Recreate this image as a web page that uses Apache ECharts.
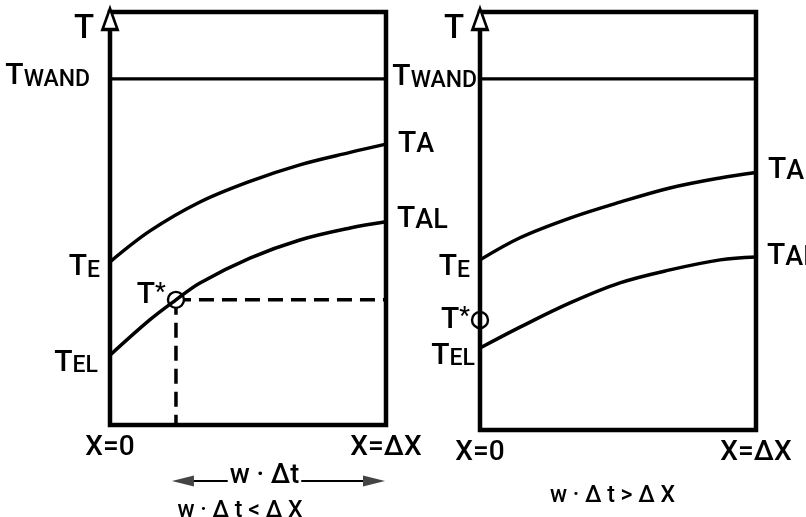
<!DOCTYPE html>
<html><head><meta charset="utf-8">
<script src="https://cdn.jsdelivr.net/npm/echarts@6/dist/echarts.min.js"></script>
<style>html,body{margin:0;padding:0;background:#fff}#c{width:806px;height:517px}</style>
</head><body><div id="c"></div>
<script>
// ---- data ----
const xTickLabels = ['X=0', 'X=\u0394X'];
const xPos = [0, 0.145, 0.326, 0.507, 0.688, 0.870, 1.0];
const leftTA = [39.5, 47.0, 54.0, 59.0, 63.0, 66.0, 68.0];
const leftTALx = [0, 0.145, 0.239, 0.326, 0.507, 0.688, 0.870, 1.0];
const leftTAL = [16.9, 25.5, 30.3, 34.4, 40.4, 44.8, 47.7, 49.2];
const rightTA = [40.7, 46.0, 50.7, 54.5, 57.9, 60.3, 61.6];
const rightTAL = [19.6, 24.6, 30.4, 35.2, 38.3, 40.7, 41.4];
const tWand = [83.8, 84.0];
const tStar = [[0.239, 30.3], [0, 26.3]];
const yTop = 100;
const captions = ['w \u00b7 \u0394 t < \u0394 X', 'w \u00b7 \u0394 t > \u0394 X'];
const arrowLabel = 'w \u00b7 \u0394t';

// ---- styles ----
const F = 'Roboto';
const rich = {
  b: {fontFamily: F, fontSize: 30, fontWeight: 500, color: '#000', verticalAlign: 'bottom'},
  s: {fontFamily: F, fontSize: 23, fontWeight: 500, color: '#000', verticalAlign: 'bottom'},
  a: {fontFamily: F, fontSize: 27, fontWeight: 500, color: '#000', verticalAlign: 'bottom'},
  t: {fontFamily: F, fontSize: 33, fontWeight: 500, color: '#000'},
  sup: {fontFamily: F, fontSize: 24, fontWeight: 500, color: '#000', verticalAlign: 'top'}
};
function lab(text, position, distance, dy) {
  return {show: true, position: position, distance: distance, offset: [0, dy], formatter: text, rich: rich};
}
function curve(xs, ys, firstLab, lastLab, gi) {
  const data = xs.map((x, i) => ({value: [x, ys[i]]}));
  if (firstLab) data[0].label = firstLab;
  if (lastLab) data[data.length - 1].label = lastLab;
  return {
    type: 'line', xAxisIndex: gi, yAxisIndex: gi, smooth: 0.35, data: data,
    showSymbol: true, symbol: 'circle', symbolSize: 0, z: 4,
    lineStyle: {color: '#000', width: 3.5}, itemStyle: {color: '#000'},
    label: {show: false}, emphasis: {disabled: true}, silent: true
  };
}
function straight(pts, gi, dashed, z) {
  return {
    type: 'line', xAxisIndex: gi, yAxisIndex: gi, data: pts.map(p => ({value: p})),
    showSymbol: true, symbol: 'circle', symbolSize: 0, z: z || 3,
    lineStyle: {color: '#000', width: dashed ? 3.5 : 3.2, type: dashed ? [15, 8] : 'solid'},
    itemStyle: {color: '#000'}, label: {show: false}, emphasis: {disabled: true}, silent: true
  };
}
function scatterPt(pt, gi, opts) {
  return Object.assign({
    type: 'scatter', xAxisIndex: gi, yAxisIndex: gi, data: [{value: pt}],
    emphasis: {disabled: true}, silent: true
  }, opts);
}

const series = [];
for (let gi = 0; gi < 2; gi++) {
  const L = gi === 0;
  const tw = straight([[0, tWand[gi]], [1, tWand[gi]]], gi, false);
  tw.data[0].label = lab('{b|T}{s|WAND}', 'left', L ? 20 : 3, L ? -2 : -1);
  series.push(tw);
  series.push(curve(xPos, L ? leftTA : rightTA,
    lab('{b|T}{s|E}', 'left', 10, L ? 6 : 8),
    lab('{b|T}{a|A}', 'right', 12, L ? 0 : -2), gi));
  series.push(curve(L ? leftTALx : xPos, L ? leftTAL : rightTAL,
    lab('{b|T}{s|EL}', 'left', L ? 12 : 5, 8),
    lab('{b|T}{a|AL}', 'right', 11, L ? -2 : 0), gi));
  if (tStar[gi][0] > 0) {
    series.push(straight([tStar[gi], [1, tStar[gi][1]]], gi, true, 2));
    series.push(straight([tStar[gi], [tStar[gi][0], 0]], gi, true, 2));
  }
  series.push(scatterPt(tStar[gi], gi, {
    symbol: 'circle', symbolSize: 16, z: L ? 3 : 5,
    itemStyle: {color: L ? '#fff' : 'rgba(255,255,255,0)', borderColor: '#000', borderWidth: 2.4, opacity: 1},
    label: lab('{b|T}{sup|*}', 'left', L ? 1 : 1, L ? -4 : 0)
  }));
  series.push(scatterPt([0, yTop], gi, {
    symbol: 'triangle', symbolSize: [15, 21], symbolOffset: [0, 7], z: 6,
    itemStyle: {color: '#fff', borderColor: '#000', borderWidth: 3, opacity: 1},
    label: {show: true, position: 'left', distance: 7, offset: [0, 11], formatter: '{t|T}', rich: rich}
  }));
}

const grids = [
  {left: 110, top: 12, width: 276, height: 413},
  {left: 480, top: 12, width: 276, height: 418}
].map(g => Object.assign(g, {show: true, borderColor: '#000', borderWidth: 4.5, backgroundColor: 'transparent'}));

const xAxes = [0, 1].map(gi => ({
  type: 'value', gridIndex: gi, min: 0, max: 1, interval: 1,
  axisLine: {show: false}, axisTick: {show: false}, splitLine: {show: false},
  axisLabel: {
    show: true, margin: 9, showMinLabel: true, showMaxLabel: true,
    fontFamily: F, fontSize: 28, fontWeight: 500, color: '#000',
    formatter: v => v === 0 ? xTickLabels[0] : (v === 1 ? xTickLabels[1] : '')
  }
}));
const yAxes = [0, 1].map(gi => ({
  type: 'value', gridIndex: gi, min: 0, max: yTop,
  axisLine: {show: false}, axisTick: {show: false}, splitLine: {show: false}, axisLabel: {show: false}
}));

const chart = echarts.init(document.getElementById('c'));
chart.setOption({
  animation: false, backgroundColor: '#fff',
  grid: grids, xAxis: xAxes, yAxis: yAxes, series: series
});

// annotations below the panels, positioned through the axes
const a = chart.convertToPixel({gridIndex: 0}, [tStar[0][0], 0]);
const b = chart.convertToPixel({gridIndex: 0}, [1, 0]);
const rb = chart.convertToPixel({gridIndex: 1}, [0.48, 0]);
const ay = a[1] + 56;
const ax0 = a[0] - 4, ax1 = b[0] - 1;
chart.setOption({
  graphic: [
    {type: 'line', shape: {x1: ax0 + 18, y1: ay, x2: ax1 - 18, y2: ay}, style: {stroke: '#000', lineWidth: 2}},
    {type: 'polygon', shape: {points: [[ax0, ay], [ax0 + 22, ay - 5.5], [ax0 + 22, ay + 5.5]]}, style: {fill: '#444'}},
    {type: 'polygon', shape: {points: [[ax1, ay], [ax1 - 22, ay - 5.5], [ax1 - 22, ay + 5.5]]}, style: {fill: '#444'}},
    {type: 'text', x: (ax0 + ax1) / 2 - 14, y: ay - 5, style: {
      text: arrowLabel, fontFamily: F, fontSize: 27, fontWeight: 500, fill: '#000',
      align: 'center', verticalAlign: 'middle', backgroundColor: '#fff', padding: [0, 2]}},
    {type: 'text', x: 240, y: b[1] + 86, style: {
      text: captions[0], fontFamily: F, fontSize: 23, fontWeight: 500, fill: '#000',
      align: 'center', verticalAlign: 'middle'}},
    {type: 'text', x: rb[0], y: rb[1] + 66, style: {
      text: captions[1], fontFamily: F, fontSize: 23, fontWeight: 500, fill: '#000',
      align: 'center', verticalAlign: 'middle'}}
  ]
});
</script>
</body></html>
